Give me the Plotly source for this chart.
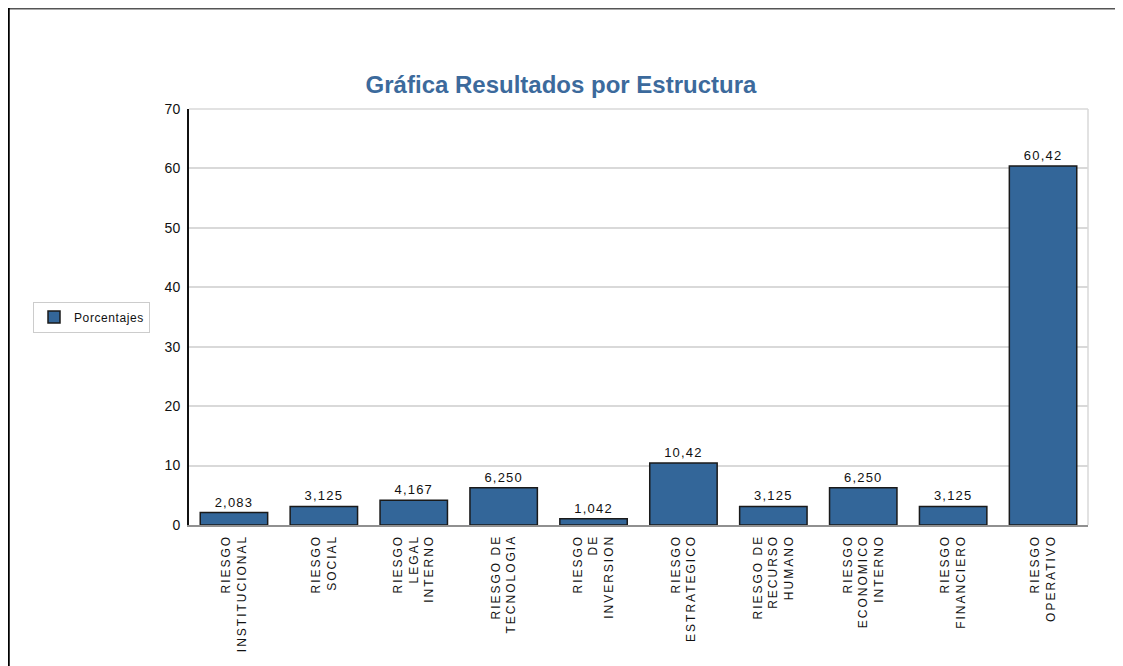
import plotly.graph_objects as go

categories = [
    "RIESGO<br>INSTITUCIONAL",
    "RIESGO<br>SOCIAL",
    "RIESGO<br>LEGAL<br>INTERNO",
    "RIESGO DE<br>TECNOLOGIA",
    "RIESGO<br>DE<br>INVERSION",
    "RIESGO<br>ESTRATEGICO",
    "RIESGO DE<br>RECURSO<br>HUMANO",
    "RIESGO<br>ECONOMICO<br>INTERNO",
    "RIESGO<br>FINANCIERO",
    "RIESGO<br>OPERATIVO",
]
values = [2.083, 3.125, 4.167, 6.250, 1.042, 10.42, 3.125, 6.250, 3.125, 60.42]
value_labels = ["2,083", "3,125", "4,167", "6,250", "1,042", "10,42", "3,125", "6,250", "3,125", "60,42"]
y_ticks = [0, 10, 20, 30, 40, 50, 60, 70]
series_name = "Porcentajes"
title_text = "Gráfica Resultados por Estructura"

FONT = "Liberation Sans, Arial, sans-serif"


def spaced(s, px):
    return "<br>".join(f"<span style='letter-spacing:{px}px'>{part}</span>" for part in s.split("<br>"))


tick_text = [spaced(c, 2) for c in categories]
bar_text = [spaced(v, 1.2) for v in value_labels]

# page offset of 8px (body margin): figure coords = page coords - 8
W, H = 1115, 658
PX0, PX1, PY0, PY1 = 189, 1088, 109, 525  # plot area in page pixels


def xp(px):
    return (px - PX0) / (PX1 - PX0)


def yp(py):
    return (PY1 - py) / (PY1 - PY0)


fig = go.Figure()
fig.add_trace(go.Bar(
    x=categories, y=values, name=spaced(series_name, 0.6),
    marker=dict(color="#336699", line=dict(color="#1a1a1a", width=1.5)),
    text=bar_text, textposition="outside", cliponaxis=False,
    textfont=dict(family=FONT, size=13, color="#111111"),
    showlegend=True,
))

fig.update_layout(
    width=W, height=H,
    margin=dict(l=PX0 - 8, r=W - (PX1 - 8), t=PY0 - 8, b=H - (PY1 - 8), pad=0),
    paper_bgcolor="white", plot_bgcolor="white",
    bargap=0.25,
    title=dict(text=f"<b>{title_text}</b>", x=(561 - 8) / W, xanchor="center",
               y=1 - (85 - 8) / H, yanchor="middle",
               font=dict(family=FONT, size=24, color="#3c6a9c")),
    font=dict(family=FONT, size=12, color="#111111"),
    showlegend=True,
    legend=dict(x=xp(33), xanchor="left", y=yp(317), yanchor="middle",
                bordercolor="#cccccc", borderwidth=1, bgcolor="white",
                font=dict(family=FONT, size=12, color="#111111"),
                itemwidth=30),
    xaxis=dict(tickangle=-90, showline=True, linecolor="#909090", linewidth=2,
               ticks="", tickmode="array", tickvals=categories, ticktext=tick_text,
               tickfont=dict(family=FONT, size=12, color="#111111"),
               ticklabelstandoff=3),
    yaxis=dict(range=[0, 70], tickvals=y_ticks, showline=True, linecolor="#111111", linewidth=2,
               gridcolor="#d9d9d9", gridwidth=1.5, zeroline=False, ticks="",
               tickfont=dict(family=FONT, size=14, color="#111111"),
               ticklabelstandoff=4),
    shapes=[
        # plot area top and right borders
        dict(type="line", xref="paper", yref="paper", x0=0, x1=1, y0=1, y1=1,
             line=dict(color="#d9d9d9", width=1.5)),
        dict(type="line", xref="paper", yref="paper", x0=1, x1=1, y0=0, y1=1,
             line=dict(color="#d9d9d9", width=1.5)),
        # outer frame
        dict(type="line", xref="paper", yref="paper", x0=xp(8.5), x1=xp(1131),
             y0=yp(8.75), y1=yp(8.75), line=dict(color="#555555", width=1.5)),
        dict(type="line", xref="paper", yref="paper", x0=xp(8.5), x1=xp(8.5),
             y0=yp(8), y1=yp(670), line=dict(color="#000000", width=2.5)),
    ],
)

fig.write_html("out.html")
